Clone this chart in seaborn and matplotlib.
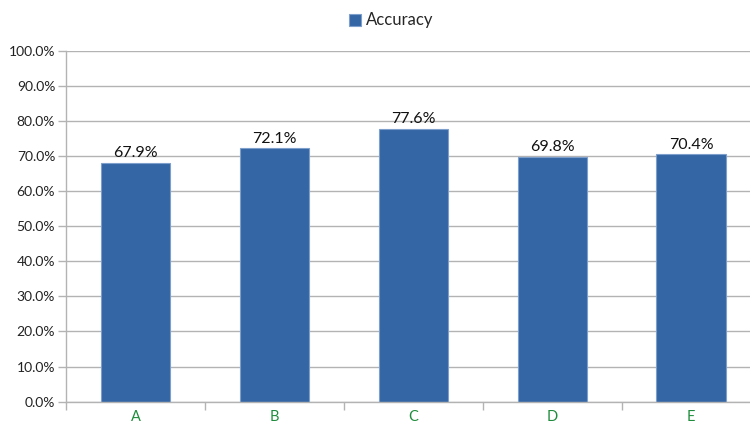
import matplotlib
matplotlib.use("Agg")
import matplotlib.pyplot as plt
import seaborn as sns
import pandas as pd
import numpy as np
from matplotlib.ticker import FixedLocator, PercentFormatter

categories = ["A", "B", "C", "D", "E"]
accuracy = [67.9, 72.1, 77.6, 69.8, 70.4]
series_name = "Accuracy"

sns.set_theme(style="white")
plt.rcParams['font.family'] = ['Lato', 'DejaVu Sans']

df = pd.DataFrame({"category": categories, "value": accuracy, "series": series_name})

fig = plt.figure(figsize=(7.5, 4.24), dpi=100)
W, H = 750, 424
left, right, top, bottom = 66.3, 760.6, 50.5, 401.7
ax = fig.add_axes([left / W, 1 - bottom / H, (right - left) / W, (bottom - top) / H])

bar_color = "#3465A4"
sns.barplot(data=df, x="category", y="value", hue="series", palette=[bar_color],
            width=0.5, edgecolor="#7d9fcc", linewidth=0.8, ax=ax, legend=True, saturation=1)

ax.set_ylim(0, 100)
ax.set_xlim(-0.5, 4.5)
ax.set_yticks(np.arange(0, 101, 10))
ax.yaxis.set_major_formatter(PercentFormatter(100, decimals=1))
ax.yaxis.grid(True, color="#b3b3b3", linewidth=1)
ax.set_axisbelow(True)
ax.set_xlabel("")
ax.set_ylabel("")

for s in ["top", "right"]:
    ax.spines[s].set_visible(False)
for s in ["left", "bottom"]:
    ax.spines[s].set_color("#b3b3b3")
    ax.spines[s].set_linewidth(1)

ax.tick_params(axis="y", which="major", length=6, width=1, color="#b3b3b3",
               labelsize=10, labelcolor="#222222", pad=2, left=True)
ax.tick_params(axis="x", which="major", length=0, labelsize=10.5,
               labelcolor="#1e8c3c", pad=6)
ax.xaxis.set_minor_locator(FixedLocator(np.arange(-0.5, 4.6, 1)))
ax.tick_params(axis="x", which="minor", length=6, width=1, color="#b3b3b3", bottom=True)

for cont in ax.containers:
    ax.bar_label(cont, labels=[f"{v:.1f}%" for v in accuracy], padding=2,
                 fontsize=11.5, color="#111111")

leg = ax.legend(loc="center", bbox_to_anchor=(391 / W, 1 - 20.5 / H),
                bbox_transform=fig.transFigure, frameon=False, fontsize=12,
                handlelength=0.75, handleheight=0.75, handletextpad=0.3)

fig.savefig("out.png", dpi=100)
